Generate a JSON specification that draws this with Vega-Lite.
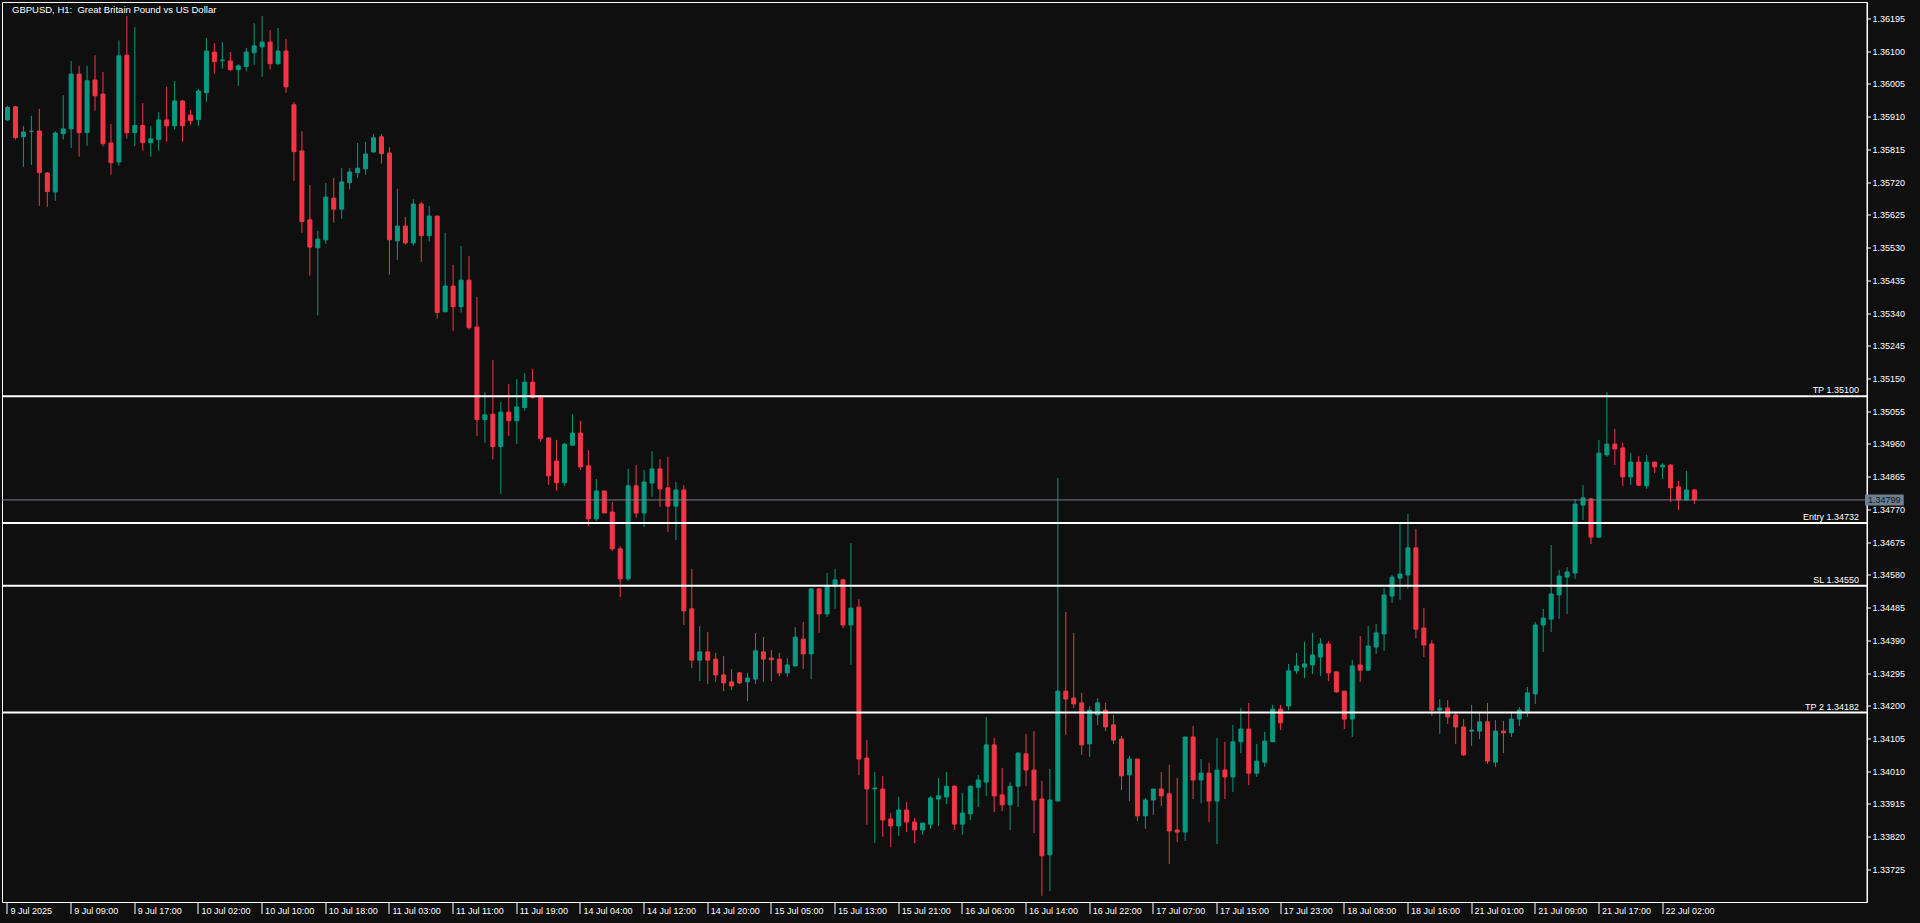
{
"$schema": "https://vega.github.io/schema/vega-lite/v6.json",
"width": 1865, "height": 900,
"autosize": {"type": "none"},
"padding": {"left": 2, "top": 2, "right": 53, "bottom": 21},
"background": "#0f0f0f",
"config": {
 "view": {"stroke": "#ffffff", "strokeWidth": 1},
 "font": "Liberation Sans",
 "axis": {"labelOverlap": false, "labelFlush": false, "labelBound": false, "grid": false, "title": null, "translate": 0},
 "axisY": {"labelOverlap": false, "tickCount": 60, "domainColor": "#ffffff", "tickColor": "#ffffff", "tickSize": 4, "tickWidth": 1, "labelColor": "#ffffff", "labelFont": "Liberation Sans", "labelFontSize": 9, "labelPadding": 1.5},
 "axisX": {"labelOverlap": false, "tickCount": 60, "domain": false, "tickColor": "#ffffff", "tickSize": 12, "tickWidth": 1, "labelColor": "#ffffff", "labelFont": "Liberation Sans", "labelFontSize": 9, "labelAlign": "left", "labelBaseline": "top", "labelPadding": -7, "labelOffset": 3}
},
"datasets": {
"bars": [
{"i":0,"o":1.35902,"h":1.35943,"l":1.35899,"c":1.35938},
{"i":1,"o":1.35940,"h":1.35943,"l":1.35845,"c":1.35851},
{"i":2,"o":1.35853,"h":1.35884,"l":1.35766,"c":1.35867},
{"i":3,"o":1.35869,"h":1.35914,"l":1.35771,"c":1.35869},
{"i":4,"o":1.35870,"h":1.35934,"l":1.35653,"c":1.35749},
{"i":5,"o":1.35748,"h":1.35750,"l":1.35650,"c":1.35694},
{"i":6,"o":1.35693,"h":1.35870,"l":1.35667,"c":1.35864},
{"i":7,"o":1.35862,"h":1.35974,"l":1.35845,"c":1.35876},
{"i":8,"o":1.35876,"h":1.36073,"l":1.35821,"c":1.36035},
{"i":9,"o":1.36035,"h":1.36059,"l":1.35795,"c":1.35865},
{"i":10,"o":1.35865,"h":1.36059,"l":1.35827,"c":1.36016},
{"i":11,"o":1.36018,"h":1.36090,"l":1.35929,"c":1.35972},
{"i":12,"o":1.35977,"h":1.36041,"l":1.35825,"c":1.35833},
{"i":13,"o":1.35835,"h":1.35890,"l":1.35743,"c":1.35778},
{"i":14,"o":1.35780,"h":1.36133,"l":1.35769,"c":1.36088},
{"i":15,"o":1.36090,"h":1.36204,"l":1.35848,"c":1.35865},
{"i":16,"o":1.35865,"h":1.36172,"l":1.35826,"c":1.35886},
{"i":17,"o":1.35886,"h":1.35951,"l":1.35813,"c":1.35836},
{"i":18,"o":1.35836,"h":1.35884,"l":1.35795,"c":1.35847},
{"i":19,"o":1.35845,"h":1.35925,"l":1.35813,"c":1.35902},
{"i":20,"o":1.35902,"h":1.35998,"l":1.35839,"c":1.35885},
{"i":21,"o":1.35885,"h":1.36015,"l":1.35874,"c":1.35957},
{"i":22,"o":1.35957,"h":1.35960,"l":1.35839,"c":1.35885},
{"i":23,"o":1.35916,"h":1.35931,"l":1.35887,"c":1.35900},
{"i":24,"o":1.35903,"h":1.35992,"l":1.35885,"c":1.35986},
{"i":25,"o":1.35981,"h":1.36140,"l":1.35955,"c":1.36102},
{"i":26,"o":1.36099,"h":1.36125,"l":1.36036,"c":1.36071},
{"i":27,"o":1.36074,"h":1.36128,"l":1.36051,"c":1.36076},
{"i":28,"o":1.36073,"h":1.36099,"l":1.36044,"c":1.36048},
{"i":29,"o":1.36048,"h":1.36064,"l":1.36001,"c":1.36059},
{"i":30,"o":1.36057,"h":1.36111,"l":1.36043,"c":1.36099},
{"i":31,"o":1.36097,"h":1.36183,"l":1.36062,"c":1.36117},
{"i":32,"o":1.36114,"h":1.36204,"l":1.36027,"c":1.36128},
{"i":33,"o":1.36128,"h":1.36163,"l":1.36048,"c":1.36065},
{"i":34,"o":1.36065,"h":1.36169,"l":1.36062,"c":1.36102},
{"i":35,"o":1.36102,"h":1.36137,"l":1.35981,"c":1.35998},
{"i":36,"o":1.35946,"h":1.35954,"l":1.35725,"c":1.35810},
{"i":37,"o":1.35812,"h":1.35870,"l":1.35574,"c":1.35607},
{"i":38,"o":1.35612,"h":1.35713,"l":1.35450,"c":1.35533},
{"i":39,"o":1.35531,"h":1.35580,"l":1.35334,"c":1.35556},
{"i":40,"o":1.35554,"h":1.35719,"l":1.35543,"c":1.35678},
{"i":41,"o":1.35675,"h":1.35733,"l":1.35604,"c":1.35643},
{"i":42,"o":1.35643,"h":1.35762,"l":1.35615,"c":1.35722},
{"i":43,"o":1.35720,"h":1.35762,"l":1.35700,"c":1.35751},
{"i":44,"o":1.35749,"h":1.35835,"l":1.35734,"c":1.35762},
{"i":45,"o":1.35760,"h":1.35838,"l":1.35743,"c":1.35803},
{"i":46,"o":1.35809,"h":1.35861,"l":1.35807,"c":1.35850},
{"i":47,"o":1.35853,"h":1.35861,"l":1.35775,"c":1.35804},
{"i":48,"o":1.35806,"h":1.35823,"l":1.35453,"c":1.35554},
{"i":49,"o":1.35551,"h":1.35702,"l":1.35496,"c":1.35594},
{"i":50,"o":1.35594,"h":1.35620,"l":1.35540,"c":1.35545},
{"i":51,"o":1.35545,"h":1.35673,"l":1.35537,"c":1.35658},
{"i":52,"o":1.35658,"h":1.35664,"l":1.35490,"c":1.35566},
{"i":53,"o":1.35566,"h":1.35652,"l":1.35549,"c":1.35623},
{"i":54,"o":1.35623,"h":1.35623,"l":1.35325,"c":1.35343},
{"i":55,"o":1.35345,"h":1.35574,"l":1.35345,"c":1.35420},
{"i":56,"o":1.35420,"h":1.35481,"l":1.35290,"c":1.35360},
{"i":57,"o":1.35360,"h":1.35536,"l":1.35343,"c":1.35437},
{"i":58,"o":1.35437,"h":1.35507,"l":1.35293,"c":1.35299},
{"i":59,"o":1.35301,"h":1.35388,"l":1.34985,"c":1.35032},
{"i":60,"o":1.35032,"h":1.35112,"l":1.34965,"c":1.35046},
{"i":61,"o":1.35048,"h":1.35205,"l":1.34916,"c":1.34954},
{"i":62,"o":1.34954,"h":1.35083,"l":1.34817,"c":1.35054},
{"i":63,"o":1.35054,"h":1.35136,"l":1.34985,"c":1.35029},
{"i":64,"o":1.35029,"h":1.35150,"l":1.34962,"c":1.35069},
{"i":65,"o":1.35067,"h":1.35167,"l":1.35058,"c":1.35141},
{"i":66,"o":1.35141,"h":1.35179,"l":1.35093,"c":1.35096},
{"i":67,"o":1.35101,"h":1.35101,"l":1.34968,"c":1.34977},
{"i":68,"o":1.34979,"h":1.34979,"l":1.34843,"c":1.34869},
{"i":69,"o":1.34912,"h":1.34973,"l":1.34826,"c":1.34849},
{"i":70,"o":1.34849,"h":1.34964,"l":1.34840,"c":1.34961},
{"i":71,"o":1.34958,"h":1.35048,"l":1.34956,"c":1.34993},
{"i":72,"o":1.34993,"h":1.35028,"l":1.34886,"c":1.34895},
{"i":73,"o":1.34898,"h":1.34944,"l":1.34724,"c":1.34744},
{"i":74,"o":1.34744,"h":1.34860,"l":1.34738,"c":1.34825},
{"i":75,"o":1.34825,"h":1.34825,"l":1.34761,"c":1.34761},
{"i":76,"o":1.34764,"h":1.34793,"l":1.34651,"c":1.34657},
{"i":77,"o":1.34657,"h":1.34665,"l":1.34517,"c":1.34570},
{"i":78,"o":1.34570,"h":1.34889,"l":1.34564,"c":1.34840},
{"i":79,"o":1.34840,"h":1.34900,"l":1.34747,"c":1.34761},
{"i":80,"o":1.34761,"h":1.34886,"l":1.34720,"c":1.34851},
{"i":81,"o":1.34848,"h":1.34941,"l":1.34808,"c":1.34889},
{"i":82,"o":1.34889,"h":1.34918,"l":1.34779,"c":1.34831},
{"i":83,"o":1.34834,"h":1.34924,"l":1.34706,"c":1.34781},
{"i":84,"o":1.34781,"h":1.34851,"l":1.34683,"c":1.34828},
{"i":85,"o":1.34828,"h":1.34842,"l":1.34436,"c":1.34477},
{"i":86,"o":1.34483,"h":1.34599,"l":1.34311,"c":1.34334},
{"i":87,"o":1.34334,"h":1.34433,"l":1.34273,"c":1.34358},
{"i":88,"o":1.34358,"h":1.34416,"l":1.34265,"c":1.34334},
{"i":89,"o":1.34337,"h":1.34355,"l":1.34271,"c":1.34291},
{"i":90,"o":1.34291,"h":1.34346,"l":1.34244,"c":1.34268},
{"i":91,"o":1.34271,"h":1.34308,"l":1.34247,"c":1.34259},
{"i":92,"o":1.34297,"h":1.34300,"l":1.34265,"c":1.34268},
{"i":93,"o":1.34271,"h":1.34297,"l":1.34215,"c":1.34282},
{"i":94,"o":1.34279,"h":1.34413,"l":1.34265,"c":1.34361},
{"i":95,"o":1.34358,"h":1.34401,"l":1.34271,"c":1.34337},
{"i":96,"o":1.34340,"h":1.34363,"l":1.34273,"c":1.34335},
{"i":97,"o":1.34337,"h":1.34355,"l":1.34288,"c":1.34297},
{"i":98,"o":1.34297,"h":1.34340,"l":1.34285,"c":1.34320},
{"i":99,"o":1.34317,"h":1.34430,"l":1.34317,"c":1.34401},
{"i":100,"o":1.34395,"h":1.34445,"l":1.34308,"c":1.34352},
{"i":101,"o":1.34352,"h":1.34541,"l":1.34279,"c":1.34541},
{"i":102,"o":1.34541,"h":1.34541,"l":1.34413,"c":1.34468},
{"i":103,"o":1.34468,"h":1.34587,"l":1.34459,"c":1.34549},
{"i":104,"o":1.34549,"h":1.34599,"l":1.34483,"c":1.34567},
{"i":105,"o":1.34567,"h":1.34570,"l":1.34427,"c":1.34436},
{"i":106,"o":1.34436,"h":1.34674,"l":1.34320,"c":1.34485},
{"i":107,"o":1.34488,"h":1.34512,"l":1.34001,"c":1.34047},
{"i":108,"o":1.34050,"h":1.34102,"l":1.33856,"c":1.33960},
{"i":109,"o":1.33960,"h":1.34009,"l":1.33803,"c":1.33963},
{"i":110,"o":1.33960,"h":1.33998,"l":1.33821,"c":1.33870},
{"i":111,"o":1.33873,"h":1.33890,"l":1.33792,"c":1.33853},
{"i":112,"o":1.33853,"h":1.33937,"l":1.33824,"c":1.33899},
{"i":113,"o":1.33899,"h":1.33922,"l":1.33835,"c":1.33864},
{"i":114,"o":1.33864,"h":1.33876,"l":1.33803,"c":1.33841},
{"i":115,"o":1.33841,"h":1.33861,"l":1.33827,"c":1.33861},
{"i":116,"o":1.33858,"h":1.33940,"l":1.33844,"c":1.33934},
{"i":117,"o":1.33931,"h":1.33992,"l":1.33853,"c":1.33940},
{"i":118,"o":1.33937,"h":1.34009,"l":1.33916,"c":1.33968},
{"i":119,"o":1.33968,"h":1.33971,"l":1.33841,"c":1.33858},
{"i":120,"o":1.33858,"h":1.33948,"l":1.33827,"c":1.33890},
{"i":121,"o":1.33888,"h":1.33971,"l":1.33870,"c":1.33968},
{"i":122,"o":1.33965,"h":1.34001,"l":1.33908,"c":1.33986},
{"i":123,"o":1.33980,"h":1.34169,"l":1.33940,"c":1.34088},
{"i":124,"o":1.34088,"h":1.34108,"l":1.33893,"c":1.33940},
{"i":125,"o":1.33943,"h":1.34021,"l":1.33896,"c":1.33914},
{"i":126,"o":1.33914,"h":1.33980,"l":1.33841,"c":1.33968},
{"i":127,"o":1.33968,"h":1.34067,"l":1.33908,"c":1.34064},
{"i":128,"o":1.34062,"h":1.34120,"l":1.33968,"c":1.34015},
{"i":129,"o":1.34015,"h":1.34128,"l":1.33832,"c":1.33928},
{"i":130,"o":1.33931,"h":1.33983,"l":1.33650,"c":1.33766},
{"i":131,"o":1.33769,"h":1.34018,"l":1.33664,"c":1.33928},
{"i":132,"o":1.33925,"h":1.34863,"l":1.33925,"c":1.34244},
{"i":133,"o":1.34244,"h":1.34474,"l":1.34117,"c":1.34221},
{"i":134,"o":1.34224,"h":1.34413,"l":1.34195,"c":1.34207},
{"i":135,"o":1.34210,"h":1.34239,"l":1.34059,"c":1.34088},
{"i":136,"o":1.34091,"h":1.34201,"l":1.34053,"c":1.34189},
{"i":137,"o":1.34175,"h":1.34224,"l":1.34146,"c":1.34210},
{"i":138,"o":1.34189,"h":1.34210,"l":1.34128,"c":1.34140},
{"i":139,"o":1.34146,"h":1.34175,"l":1.34091,"c":1.34102},
{"i":140,"o":1.34105,"h":1.34114,"l":1.33957,"c":1.33998},
{"i":141,"o":1.34001,"h":1.34056,"l":1.33925,"c":1.34047},
{"i":142,"o":1.34047,"h":1.34047,"l":1.33867,"c":1.33882},
{"i":143,"o":1.33882,"h":1.33934,"l":1.33844,"c":1.33928},
{"i":144,"o":1.33928,"h":1.33960,"l":1.33885,"c":1.33960},
{"i":145,"o":1.33960,"h":1.34009,"l":1.33911,"c":1.33940},
{"i":146,"o":1.33946,"h":1.34030,"l":1.33742,"c":1.33838},
{"i":147,"o":1.33841,"h":1.33992,"l":1.33806,"c":1.33835},
{"i":148,"o":1.33835,"h":1.34111,"l":1.33809,"c":1.34111},
{"i":149,"o":1.34111,"h":1.34143,"l":1.33931,"c":1.33986},
{"i":150,"o":1.33986,"h":1.34047,"l":1.33919,"c":1.34006},
{"i":151,"o":1.34006,"h":1.34036,"l":1.33864,"c":1.33925},
{"i":152,"o":1.33925,"h":1.34108,"l":1.33800,"c":1.34015},
{"i":153,"o":1.34015,"h":1.34097,"l":1.33931,"c":1.33995},
{"i":154,"o":1.33995,"h":1.34146,"l":1.33951,"c":1.34097},
{"i":155,"o":1.34097,"h":1.34195,"l":1.34064,"c":1.34134},
{"i":156,"o":1.34134,"h":1.34210,"l":1.33971,"c":1.34006},
{"i":157,"o":1.34006,"h":1.34091,"l":1.33995,"c":1.34041},
{"i":158,"o":1.34038,"h":1.34126,"l":1.34024,"c":1.34099},
{"i":159,"o":1.34097,"h":1.34204,"l":1.34097,"c":1.34192},
{"i":160,"o":1.34192,"h":1.34204,"l":1.34131,"c":1.34152},
{"i":161,"o":1.34201,"h":1.34323,"l":1.34189,"c":1.34303},
{"i":162,"o":1.34303,"h":1.34355,"l":1.34294,"c":1.34317},
{"i":163,"o":1.34314,"h":1.34387,"l":1.34282,"c":1.34323},
{"i":164,"o":1.34320,"h":1.34413,"l":1.34294,"c":1.34349},
{"i":165,"o":1.34343,"h":1.34398,"l":1.34288,"c":1.34381},
{"i":166,"o":1.34381,"h":1.34390,"l":1.34273,"c":1.34297},
{"i":167,"o":1.34300,"h":1.34300,"l":1.34239,"c":1.34242},
{"i":168,"o":1.34244,"h":1.34244,"l":1.34134,"c":1.34163},
{"i":169,"o":1.34163,"h":1.34334,"l":1.34111,"c":1.34317},
{"i":170,"o":1.34320,"h":1.34404,"l":1.34271,"c":1.34305},
{"i":171,"o":1.34305,"h":1.34433,"l":1.34303,"c":1.34375},
{"i":172,"o":1.34372,"h":1.34439,"l":1.34352,"c":1.34413},
{"i":173,"o":1.34410,"h":1.34543,"l":1.34361,"c":1.34523},
{"i":174,"o":1.34520,"h":1.34581,"l":1.34500,"c":1.34575},
{"i":175,"o":1.34572,"h":1.34732,"l":1.34509,"c":1.34584},
{"i":176,"o":1.34581,"h":1.34758,"l":1.34541,"c":1.34660},
{"i":177,"o":1.34660,"h":1.34715,"l":1.34398,"c":1.34424},
{"i":178,"o":1.34427,"h":1.34485,"l":1.34343,"c":1.34378},
{"i":179,"o":1.34381,"h":1.34392,"l":1.34172,"c":1.34189},
{"i":180,"o":1.34189,"h":1.34221,"l":1.34120,"c":1.34195},
{"i":181,"o":1.34195,"h":1.34218,"l":1.34149,"c":1.34169},
{"i":182,"o":1.34175,"h":1.34184,"l":1.34091,"c":1.34140},
{"i":183,"o":1.34140,"h":1.34163,"l":1.34056,"c":1.34059},
{"i":184,"o":1.34128,"h":1.34204,"l":1.34085,"c":1.34131},
{"i":185,"o":1.34128,"h":1.34184,"l":1.34105,"c":1.34155},
{"i":186,"o":1.34155,"h":1.34210,"l":1.34033,"c":1.34041},
{"i":187,"o":1.34038,"h":1.34160,"l":1.34024,"c":1.34128},
{"i":188,"o":1.34128,"h":1.34157,"l":1.34064,"c":1.34123},
{"i":189,"o":1.34123,"h":1.34184,"l":1.34111,"c":1.34163},
{"i":190,"o":1.34163,"h":1.34198,"l":1.34143,"c":1.34189},
{"i":191,"o":1.34186,"h":1.34256,"l":1.34169,"c":1.34239},
{"i":192,"o":1.34236,"h":1.34445,"l":1.34207,"c":1.34436},
{"i":193,"o":1.34436,"h":1.34483,"l":1.34358,"c":1.34456},
{"i":194,"o":1.34453,"h":1.34668,"l":1.34416,"c":1.34526},
{"i":195,"o":1.34523,"h":1.34596,"l":1.34453,"c":1.34578},
{"i":196,"o":1.34575,"h":1.34604,"l":1.34468,"c":1.34590},
{"i":197,"o":1.34587,"h":1.34802,"l":1.34570,"c":1.34787},
{"i":198,"o":1.34784,"h":1.34842,"l":1.34741,"c":1.34805},
{"i":199,"o":1.34802,"h":1.34805,"l":1.34671,"c":1.34691},
{"i":200,"o":1.34691,"h":1.34973,"l":1.34689,"c":1.34935},
{"i":201,"o":1.34930,"h":1.35112,"l":1.34924,"c":1.34961},
{"i":202,"o":1.34961,"h":1.35005,"l":1.34900,"c":1.34947},
{"i":203,"o":1.34950,"h":1.34965,"l":1.34840,"c":1.34866},
{"i":204,"o":1.34866,"h":1.34935,"l":1.34842,"c":1.34909},
{"i":205,"o":1.34909,"h":1.34927,"l":1.34840,"c":1.34842},
{"i":206,"o":1.34840,"h":1.34930,"l":1.34831,"c":1.34909},
{"i":207,"o":1.34909,"h":1.34909,"l":1.34877,"c":1.34895},
{"i":208,"o":1.34895,"h":1.34906,"l":1.34860,"c":1.34900},
{"i":209,"o":1.34900,"h":1.34903,"l":1.34793,"c":1.34834},
{"i":210,"o":1.34837,"h":1.34854,"l":1.34770,"c":1.34799},
{"i":211,"o":1.34799,"h":1.34883,"l":1.34796,"c":1.34828},
{"i":212,"o":1.34828,"h":1.34831,"l":1.34787,"c":1.34799}
],
"levels": [
{"p": 1.35100, "label": "TP 1.35100"},
{"p": 1.34732, "label": "Entry 1.34732"},
{"p": 1.34550, "label": "SL 1.34550"},
{"p": 1.34182, "label": "TP 2 1.34182"}
],
"last": [{"p": 1.34799, "label": "1.34799"}],
"heading": [{"t": "GBPUSD, H1: \u00a0Great Britain Pound vs US Dollar"}]
},
"layer": [
{
"data": {"name": "bars"},
"mark": {"type": "rule", "strokeWidth": 1},
"encoding": {
"x": {"field": "i", "type": "quantitative", "scale": {"domain": [-0.0625, 233.0625], "nice": false, "zero": false},
 "axis": {"values": [0,8,16,24,32,40,48,56,64,72,80,88,96,104,112,120,128,136,144,152,160,168,176,184,192,200,208],
 "labelExpr": "['9 Jul 2025','9 Jul 09:00','9 Jul 17:00','10 Jul 02:00','10 Jul 10:00','10 Jul 18:00','11 Jul 03:00','11 Jul 11:00','11 Jul 19:00','14 Jul 04:00','14 Jul 12:00','14 Jul 20:00','15 Jul 05:00','15 Jul 13:00','15 Jul 21:00','16 Jul 06:00','16 Jul 14:00','16 Jul 22:00','17 Jul 07:00','17 Jul 15:00','17 Jul 23:00','18 Jul 08:00','18 Jul 16:00','21 Jul 01:00','21 Jul 09:00','21 Jul 17:00','22 Jul 02:00'][round(datum.value/8)]",
 "title": null, "orient": "bottom", "labelOverlap": false, "tickCount": 60}},
"y": {"field": "l", "type": "quantitative", "scale": {"domain": [1.33632, 1.362443], "nice": false, "zero": false},
 "axis": {"orient": "right", "values": [1.33725,1.3382,1.33915,1.3401,1.34105,1.342,1.34295,1.3439,1.34485,1.3458,1.34675,1.3477,1.34865,1.3496,1.35055,1.3515,1.35245,1.3534,1.35435,1.3553,1.35625,1.3572,1.35815,1.3591,1.36005,1.361,1.36195],
 "format": ".5f", "title": null, "labelOverlap": false, "tickCount": 60}},
"y2": {"field": "h"},
"color": {"condition": {"test": "datum.c >= datum.o", "value": "#089981"}, "value": "#f23645"}
}
},
{
"data": {"name": "bars"},
"mark": {"type": "bar", "width": 4, "strokeWidth": 1},
"encoding": {
"x": {"field": "i", "type": "quantitative"},
"y": {"field": "o", "type": "quantitative"},
"y2": {"field": "c"},
"fill": {"condition": {"test": "datum.c >= datum.o", "value": "#089981"}, "value": "#f23645"},
"stroke": {"condition": {"test": "datum.c >= datum.o", "value": "#089981"}, "value": "#f23645"}
}
},
{
"data": {"name": "last"},
"mark": {"type": "rule", "color": "#787f8a", "strokeWidth": 1},
"encoding": {"y": {"field": "p", "type": "quantitative"}}
},
{
"data": {"name": "levels"},
"mark": {"type": "rule", "color": "#ffffff", "strokeWidth": 2},
"encoding": {"y": {"field": "p", "type": "quantitative"}}
},
{
"data": {"name": "levels"},
"mark": {"type": "text", "align": "right", "baseline": "alphabetic", "dx": -3, "dy": -3, "fontSize": 9, "font": "Liberation Sans", "color": "#ffffff"},
"encoding": {
"x": {"datum": 233.0625, "type": "quantitative"},
"y": {"field": "p", "type": "quantitative"},
"text": {"field": "label"}
}
},
{
"data": {"name": "last"},
"mark": {"type": "rect", "color": "#6e7f90"},
"encoding": {
"x": {"datum": 233.44, "type": "quantitative"},
"x2": {"datum": 238.31},
"y": {"datum": 1.34815, "type": "quantitative"},
"y2": {"datum": 1.34783}
}
},
{
"data": {"name": "last"},
"mark": {"type": "text", "align": "left", "baseline": "middle", "dx": 3, "fontSize": 9, "font": "Liberation Sans", "color": "#101418"},
"encoding": {
"x": {"datum": 233.44, "type": "quantitative"},
"y": {"field": "p", "type": "quantitative"},
"text": {"field": "label"}
}
},
{
"data": {"name": "heading"},
"mark": {"type": "text", "align": "left", "baseline": "alphabetic", "dx": 5, "dy": 11.3, "fontSize": 9.5, "font": "Liberation Sans", "color": "#ffffff"},
"encoding": {
"x": {"datum": -0.0625, "type": "quantitative"},
"y": {"datum": 1.362443, "type": "quantitative"},
"text": {"field": "t"}
}
}
]
}
